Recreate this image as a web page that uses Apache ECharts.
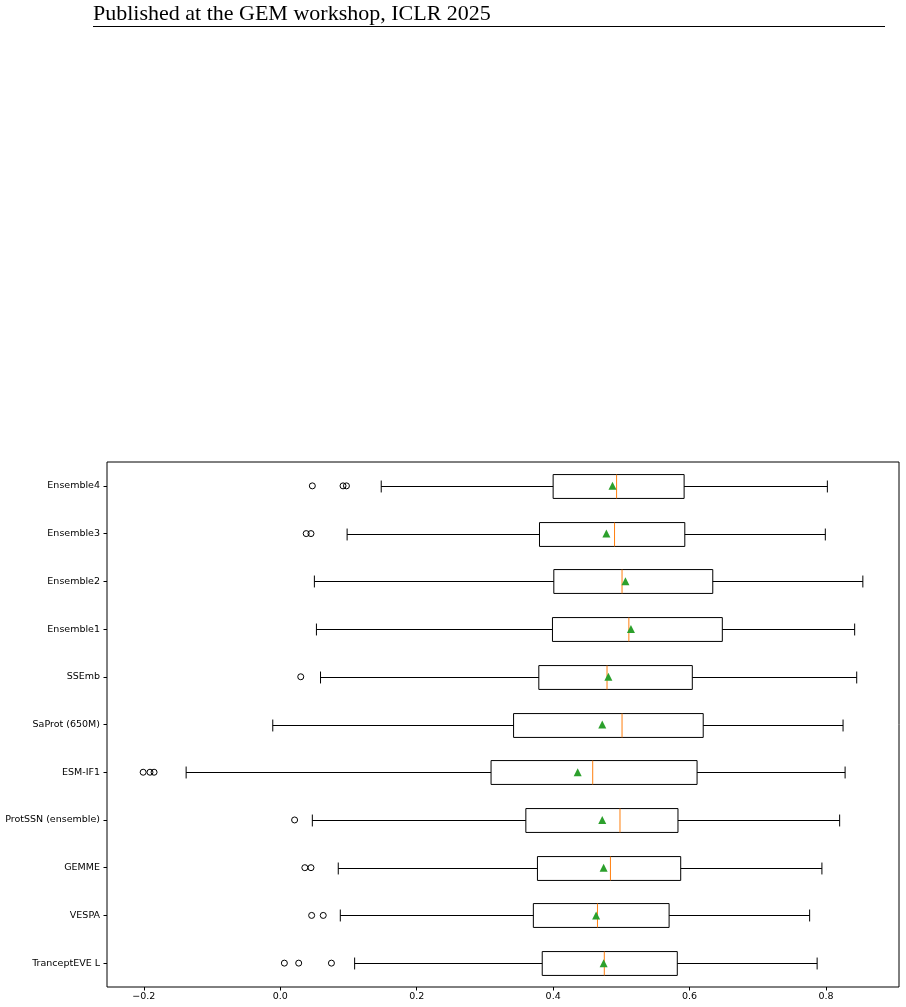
<!DOCTYPE html>
<html>
<head>
<meta charset="utf-8">
<script src="https://cdn.jsdelivr.net/npm/echarts@6/dist/echarts.min.js"></script>
<style>
  html, body { margin: 0; padding: 0; background: #fff; }
  #main { width: 906px; height: 1007px; }
</style>
</head>
<body>
<div id="main"></div>
<script>
// top to bottom, as in the figure
var models = ['Ensemble4', 'Ensemble3', 'Ensemble2', 'Ensemble1', 'SSEmb', 'SaProt (650M)',
  'ESM-IF1', 'ProtSSN (ensemble)', 'GEMME', 'VESPA', 'TranceptEVE L'];

var whiskerLow  = [0.148, 0.098, 0.050, 0.053, 0.059, -0.011, -0.138, 0.047, 0.085, 0.088, 0.109];
var q1          = [0.400, 0.380, 0.401, 0.399, 0.379, 0.342, 0.309, 0.360, 0.377, 0.371, 0.384];
var medians     = [0.493, 0.490, 0.501, 0.511, 0.479, 0.501, 0.458, 0.498, 0.484, 0.465, 0.475];
var q3          = [0.592, 0.593, 0.634, 0.648, 0.604, 0.620, 0.611, 0.583, 0.587, 0.570, 0.582];
var whiskerHigh = [0.802, 0.799, 0.854, 0.842, 0.845, 0.825, 0.828, 0.820, 0.794, 0.776, 0.787];
var means       = [0.487, 0.478, 0.506, 0.514, 0.481, 0.472, 0.436, 0.472, 0.474, 0.463, 0.474];
var outliers = [
  [0.047, 0.092, 0.097],
  [0.038, 0.045],
  [],
  [],
  [0.030],
  [],
  [-0.201, -0.191, -0.185],
  [0.021],
  [0.036, 0.045],
  [0.046, 0.063],
  [0.006, 0.027, 0.075]
];
var xTicks = [-0.2, 0.0, 0.2, 0.4, 0.6, 0.8];

var chart = echarts.init(document.getElementById('main'));

var boxData = models.map(function (m, i) {
  return [i, whiskerLow[i], q1[i], medians[i], q3[i], whiskerHigh[i]];
});
var meanData = models.map(function (m, i) { return [means[i], i]; });
var outlierData = [];
outliers.forEach(function (list, i) {
  list.forEach(function (v) { outlierData.push([v, i]); });
});

function renderBox(params, api) {
  var cat = api.value(0);
  var lo = api.coord([api.value(1), cat]);
  var a = api.coord([api.value(2), cat]);
  var md = api.coord([api.value(3), cat]);
  var b = api.coord([api.value(4), cat]);
  var hi = api.coord([api.value(5), cat]);
  var band = api.size([0, 1])[1];
  var h = band * 0.5;      // box width 0.5
  var cap = h / 2;         // caps half of box
  var y = Math.round(a[1]) + 0.5;
  var black = { stroke: '#000', lineWidth: 1, fill: null };
  return {
    type: 'group',
    children: [
      { type: 'line', shape: { x1: lo[0], y1: y, x2: a[0], y2: y }, style: black },
      { type: 'line', shape: { x1: b[0], y1: y, x2: hi[0], y2: y }, style: black },
      { type: 'line', shape: { x1: lo[0], y1: y - cap / 2, x2: lo[0], y2: y + cap / 2 }, style: black },
      { type: 'line', shape: { x1: hi[0], y1: y - cap / 2, x2: hi[0], y2: y + cap / 2 }, style: black },
      { type: 'rect', shape: { x: a[0], y: y - h / 2, width: b[0] - a[0], height: h },
        style: { stroke: '#000', lineWidth: 1, fill: 'none' } },
      { type: 'line', shape: { x1: md[0], y1: y - h / 2, x2: md[0], y2: y + h / 2 },
        style: { stroke: '#ff7f0e', lineWidth: 1 } }
    ]
  };
}

var option = {
  backgroundColor: '#fff',
  animation: false,
  textStyle: { fontFamily: 'DejaVu Sans' },
  graphic: [
    {
      type: 'text',
      left: 93,
      top: 3,
      style: {
        text: 'Published at the GEM workshop, ICLR 2025',
        font: '22px "Liberation Serif"',
        fill: '#000'
      }
    },
    {
      type: 'line',
      shape: { x1: 93, y1: 26.5, x2: 885, y2: 26.5 },
      style: { stroke: '#000', lineWidth: 1 }
    }
  ],
  grid: {
    left: 107,
    right: 7,
    top: 462,
    bottom: 20,
    show: true,
    borderColor: '#000',
    borderWidth: 1,
    backgroundColor: '#fff'
  },
  xAxis: {
    type: 'value',
    min: -0.254,
    max: 0.907,
    splitLine: { show: false },
    axisLine: { show: false, onZero: false },
    axisTick: { show: true, length: 3.5, customValues: xTicks, lineStyle: { color: '#000' } },
    axisLabel: {
      customValues: xTicks,
      color: '#000',
      fontSize: 9.5,
      margin: 5,
      formatter: function (v) {
        var s = Math.abs(v).toFixed(1);
        return v < -1e-9 ? '\u2212' + s : s;
      }
    }
  },
  yAxis: {
    type: 'category',
    data: models,
    inverse: true,
    axisLine: { show: false, onZero: false },
    axisTick: { show: true, alignWithLabel: true, length: 3.5, lineStyle: { color: '#000' } },
    axisLabel: { color: '#000', fontSize: 9.5, margin: 7 },
    splitLine: { show: false }
  },
  series: [
    {
      type: 'custom',
      renderItem: renderBox,
      encode: { x: [1, 2, 3, 4, 5], y: 0 },
      data: boxData,
      z: 2
    },
    {
      type: 'scatter',
      symbol: 'circle',
      symbolSize: 6,
      itemStyle: { color: 'rgba(0,0,0,0)', borderColor: '#000', borderWidth: 1, opacity: 1 },
      data: outlierData,
      z: 3
    },
    {
      type: 'scatter',
      symbol: 'triangle',
      symbolSize: 8,
      itemStyle: { color: '#2ca02c', opacity: 1 },
      data: meanData,
      z: 4
    }
  ]
};

chart.setOption(option);
window.onresize = function () {
  chart.resize();
};
</script>
</body>
</html>
